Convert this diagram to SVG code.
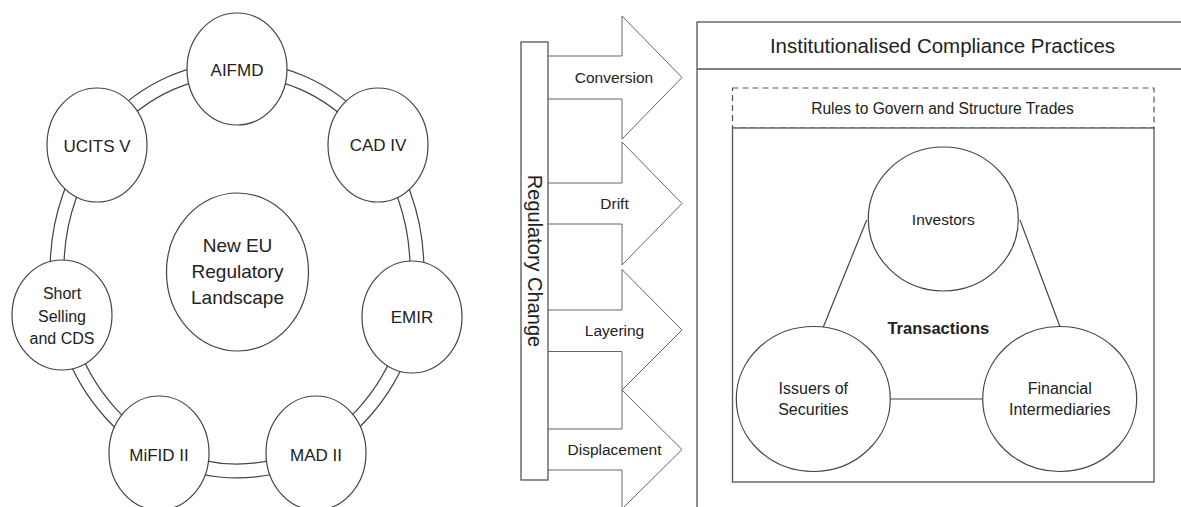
<svg xmlns="http://www.w3.org/2000/svg" width="1181" height="507" viewBox="0 0 1181 507">
<style>
  .node { fill: #fff; stroke: #444; stroke-width: 1.2; }
  .lbl { font-family: "Liberation Sans", Arial, sans-serif; fill: #222; text-anchor: middle; dominant-baseline: central; }
  .arrow { fill: #fff; stroke: #666; stroke-width: 1; }
  .conn { stroke: #444; stroke-width: 1.2; fill: none; }
  .box { fill: #fff; stroke: #555; stroke-width: 1.3; }
</style>
<rect width="1181" height="507" fill="#fff"/>

<!-- ring connectors -->
<g id="ring-connectors">
  <ellipse cx="237" cy="270" rx="180" ry="201" fill="none" stroke="#444" stroke-width="15"/>
  <ellipse cx="237" cy="270" rx="180" ry="201" fill="none" stroke="#fff" stroke-width="12.6"/>
</g>

<g id="aifmd"><ellipse class="node" cx="237" cy="69" rx="50" ry="56"/><text class="lbl" x="237" y="70" font-size="17">AIFMD</text></g>
<g id="cad-iv"><ellipse class="node" cx="378" cy="145" rx="50" ry="57"/><text class="lbl" x="378" y="145" font-size="17">CAD IV</text></g>
<g id="emir"><ellipse class="node" cx="412" cy="317" rx="50" ry="56"/><text class="lbl" x="412" y="317" font-size="17">EMIR</text></g>
<g id="mad-ii"><ellipse class="node" cx="316" cy="453" rx="50" ry="57"/><text class="lbl" x="316" y="455" font-size="17">MAD II</text></g>
<g id="mifid-ii"><ellipse class="node" cx="159" cy="453" rx="50" ry="57"/><text class="lbl" x="159" y="455" font-size="17">MiFID II</text></g>
<g id="short-selling"><ellipse class="node" cx="62" cy="315" rx="50" ry="55"/>
  <text class="lbl" font-size="16"><tspan x="62" y="293">Short</tspan><tspan x="62" y="315.5">Selling</tspan><tspan x="62" y="338">and CDS</tspan></text></g>
<g id="ucits-v"><ellipse class="node" cx="97" cy="145" rx="50" ry="57"/><text class="lbl" x="97" y="146" font-size="17">UCITS V</text></g>
<g id="center"><ellipse class="node" cx="237.5" cy="272" rx="71" ry="79"/>
  <text class="lbl" font-size="19"><tspan x="237.5" y="245">New EU</tspan><tspan x="237.5" y="271">Regulatory</tspan><tspan x="237.5" y="297">Landscape</tspan></text></g>

<!-- arrows -->
<g id="arrow-conversion"><polygon class="arrow" points="540,56 622,56 622,16 682,77.5 622,139 622,99 540,99"/><text class="lbl" x="614" y="77.5" font-size="15.5">Conversion</text></g>
<g id="arrow-drift"><polygon class="arrow" points="540,183 622,183 622,142 682,203.5 622,265 622,224 540,224"/><text class="lbl" x="614.5" y="203.5" font-size="15.5">Drift</text></g>
<g id="arrow-layering"><polygon class="arrow" points="540,310 622,310 622,269.5 682,330 622,390 622,351.5 540,351.5"/><text class="lbl" x="614.5" y="330" font-size="15.5">Layering</text></g>
<g id="arrow-displacement"><polygon class="arrow" points="540,429 622,429 622,390 682,449.5 622,509 622,470 540,470"/><text class="lbl" x="614.5" y="449.5" font-size="15.5">Displacement</text></g>

<g id="regulatory-change"><rect class="box" x="521" y="42" width="27" height="438"/>
  <text class="lbl" font-size="20" transform="translate(535,261) rotate(90)" x="0" y="0">Regulatory Change</text></g>

<!-- right panel -->
<g id="compliance">
  <rect class="box" x="697" y="22" width="520" height="520"/>
  <line x1="697" y1="69" x2="1181" y2="69" stroke="#555" stroke-width="1.3"/>
  <text class="lbl" x="942.5" y="45.5" font-size="20.5">Institutionalised Compliance Practices</text>
</g>
<g id="rules">
  <rect x="732.5" y="88" width="421.5" height="40" fill="#fff" stroke="#555" stroke-width="1.2" stroke-dasharray="6,4"/>
  <text class="lbl" x="942.5" y="108" font-size="15.6">Rules to Govern and Structure Trades</text>
</g>
<g id="transactions">
  <rect class="box" x="732.5" y="128" width="421.5" height="354"/>
  <text class="lbl" x="938.3" y="328.3" font-size="16.5" font-weight="bold">Transactions</text>
</g>
<g id="connectors">
  <line class="conn" x1="866.7" y1="220" x2="823.3" y2="327"/>
  <line class="conn" x1="1020" y1="220" x2="1060" y2="326.7"/>
  <line class="conn" x1="890" y1="399" x2="982.7" y2="399"/>
</g>
<g id="investors"><ellipse class="node" cx="943.3" cy="219" rx="75" ry="72"/><text class="lbl" x="943.3" y="219" font-size="15.5">Investors</text></g>
<g id="issuers"><ellipse class="node" cx="813.3" cy="399" rx="77" ry="72.5"/>
  <text class="lbl" font-size="16"><tspan x="813.3" y="388.3">Issuers of</tspan><tspan x="813.3" y="409.3">Securities</tspan></text></g>
<g id="intermediaries"><ellipse class="node" cx="1059.7" cy="399" rx="77" ry="72.5"/>
  <text class="lbl" font-size="16"><tspan x="1059.7" y="388.3">Financial</tspan><tspan x="1059.7" y="409.3">Intermediaries</tspan></text></g>
</svg>
